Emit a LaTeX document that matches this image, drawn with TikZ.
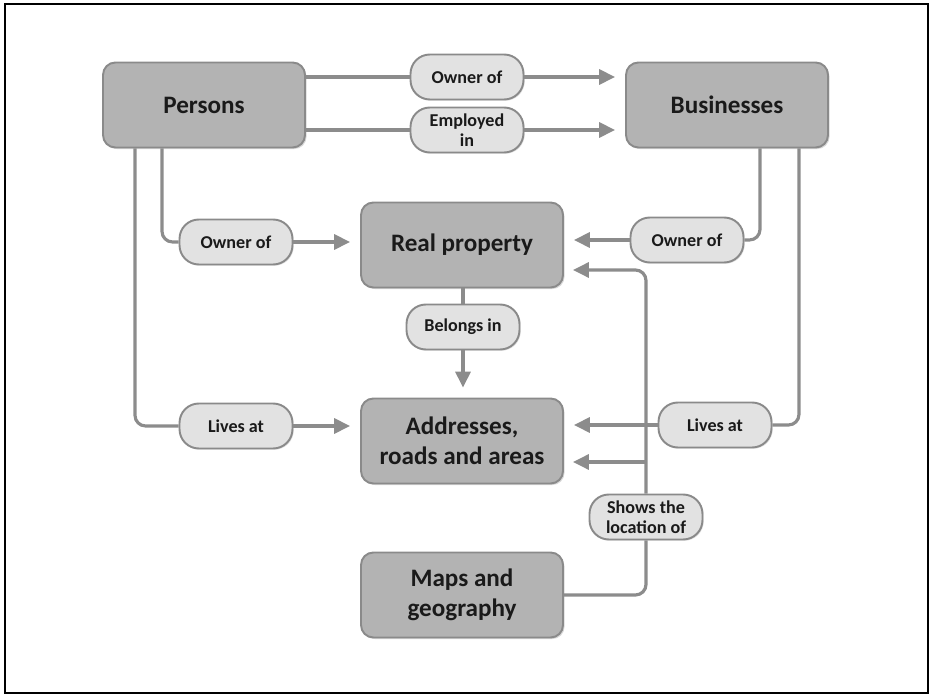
\documentclass[tikz,border=0pt]{standalone}
\usepackage{fontspec}
\setmainfont{Carlito}
\usetikzlibrary{arrows.meta,shadows}
\definecolor{boxfill}{HTML}{B3B3B3}
\definecolor{pillfill}{HTML}{E2E2E2}
\definecolor{boxline}{HTML}{8A8A8A}
\definecolor{linegray}{HTML}{8C8C8C}
\definecolor{inkdark}{HTML}{1A1A1A}

\begin{document}
\begin{tikzpicture}[x=0.02cm,y=-0.02cm,
  entity/.style={draw=boxline, fill=boxfill, line width=1.1pt, rounded corners=7pt,
    minimum width=4.04cm, minimum height=1.7cm, align=center, text=inkdark,
    font=\fontsize{14.3}{17}\selectfont\bfseries,
    drop shadow={shadow xshift=0.9pt, shadow yshift=-0.9pt, opacity=0.3}},
  relation/.style={draw=boxline, fill=pillfill, line width=1.1pt, rounded corners=11pt,
    minimum width=2.26cm, minimum height=0.9cm, inner sep=1pt, align=center, text=inkdark,
    font=\fontsize{10.3}{11.5}\selectfont\bfseries,
    drop shadow={shadow xshift=0.7pt, shadow yshift=-0.7pt, opacity=0.25}},
  link/.style={draw=linegray, line width=1.8pt, rounded corners=6pt},
  arrow/.style={link, -{Triangle[length=9pt,width=8.5pt]}, shorten >=0.2cm}]
\useasboundingbox (0,0) rectangle (930,695);
\draw[line width=1pt] (5,4) rectangle (928,693);

% main boxes
\node[entity] (persons) at (204,105) {Persons};
\node[entity] (business) at (727,105) {Businesses};
\node[entity] (realprop) at (462,245) {Real property};
\node[entity] (address) at (462,441) {Addresses,\\roads and areas};
\node[entity] (maps) at (462,595) {Maps and\\geography};

% relation labels
\node[relation] (ownerA) at (467,77) {Owner of};
\node[relation] (employed) at (467,130) {Employed\\in};
\node[relation] (ownerB) at (236,242) {Owner of};
\node[relation] (ownerC) at (687,240) {Owner of};
\node[relation] (belongs) at (463,327) {Belongs in};
\node[relation] (livesA) at (236,426) {Lives at};
\node[relation] (livesB) at (715,425) {Lives at};
\node[relation] (shows) at (646,517) {Shows the\\location of};

\coordinate (rpin) at (563,270);
\coordinate (adin) at (563,462);

% persons -> businesses
\draw[link] (persons.east |- ownerA) -- (ownerA);
\draw[arrow] (ownerA) -- (business.west |- ownerA);
\draw[link] (persons.east |- employed) -- (employed);
\draw[arrow] (employed) -- (business.west |- employed);

% owners of real property
\draw[link] ([xshift=-0.84cm]persons.south) |- (ownerB);
\draw[arrow] (ownerB) -- (realprop.west |- ownerB);
\draw[link] ([xshift=0.66cm]business.south) |- (ownerC);
\draw[arrow] (ownerC) -- (realprop.east |- ownerC);

% real property -> addresses
\draw[link] (realprop.south -| belongs) -- (belongs);
\draw[arrow] (belongs) -- (address.north -| belongs);

% lives at
\draw[link] ([xshift=-1.38cm]persons.south) |- (livesA);
\draw[arrow] (livesA) -- (address.west |- livesA);
\draw[link] ([xshift=1.44cm]business.south) |- (livesB);
\draw[arrow] (livesB) -- (address.east |- livesB);

% maps
\draw[link] (maps.east) -| (shows);
\draw[arrow] (shows) |- (rpin);
\draw[arrow] (shows |- adin) -- (adin);
\end{tikzpicture}
\end{document}
